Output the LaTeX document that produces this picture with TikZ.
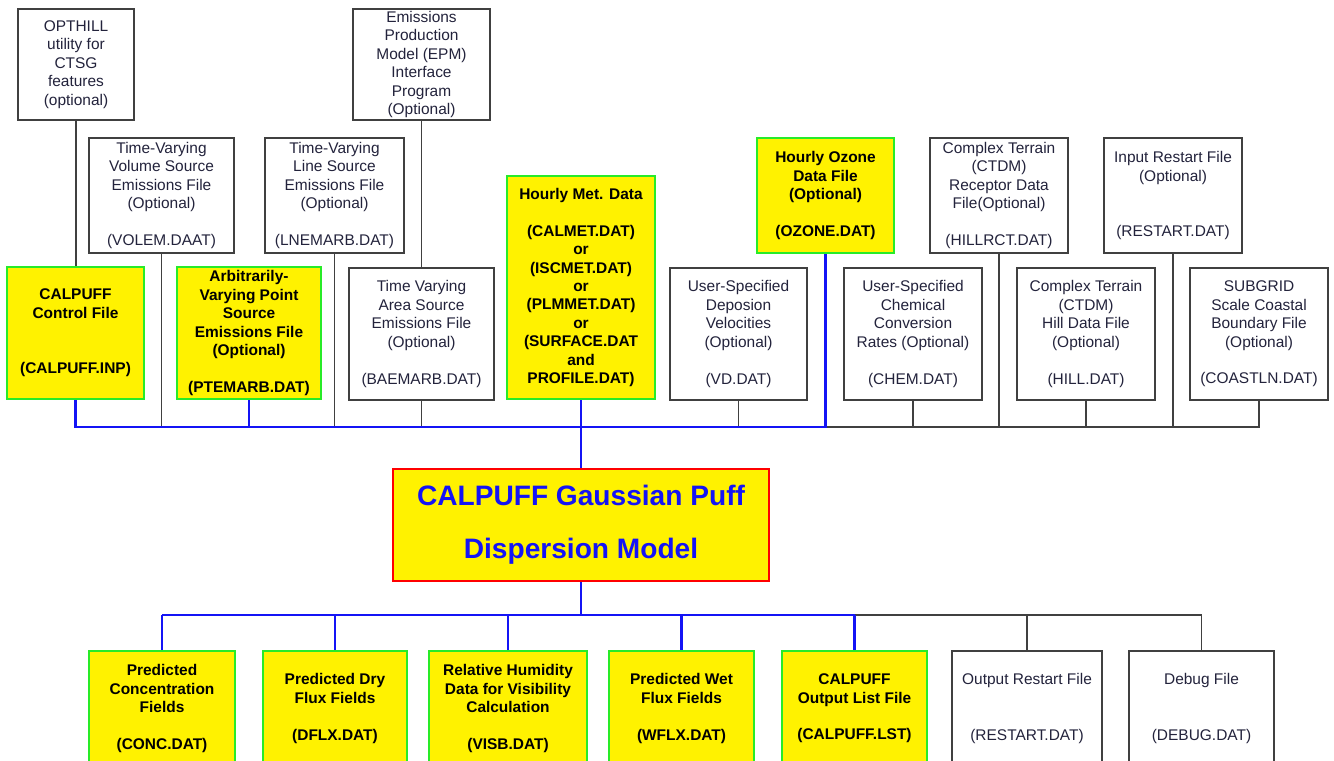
\documentclass[tikz,border=0pt]{standalone}
\usepackage{fontspec}
\setmainfont{Liberation Sans}
\usepackage{tikz}
\usetikzlibrary{calc}

\definecolor{boxgray}{RGB}{64,64,64}
\definecolor{txtgray}{RGB}{35,35,60}
\definecolor{limegreen}{RGB}{40,235,40}
\definecolor{busblue}{RGB}{20,20,245}

\begin{document}
\begin{tikzpicture}[x=0.02cm, y=-0.02cm,
    sz/.style 2 args={minimum width=#1*0.02cm, minimum height=#2*0.02cm},
    plainbox/.style={draw=boxgray, line width=0.9pt, fill=white, align=center, inner sep=0pt,
        text=txtgray, font=\fontsize{8.8}{10.5}\selectfont},
    databox/.style={draw=limegreen, line width=1.2pt, fill=yellow, align=center, inner sep=0pt,
        text=black, font=\fontsize{8.8}{10.5}\selectfont\bfseries},
    modelbox/.style={draw=red, line width=1.3pt, fill=yellow, align=center, inner sep=0pt,
        text=busblue, font=\fontsize{16}{30}\selectfont\bfseries},
    blueln/.style={busblue, line width=1.2pt},
    grayln/.style={boxgray, line width=0.8pt}]

        \useasboundingbox (0,0) rectangle (1334,760);

        % Top row of input files
        \node[plainbox, sz={116}{111}] (opthill) at (76,64.5) {OPTHILL\\utility for\\CTSG\\features\\(optional)};
        \node[plainbox, sz={137}{111}] (epm) at (421.5,64.5) {Emissions\\Production\\Model (EPM)\\Interface\\Program\\(Optional)};
        \node[plainbox, sz={145}{115}] (volem) at (161.5,195.5) {Time-Varying\\Volume Source\\Emissions File\\(Optional)\\ \\(VOLEM.DAAT)};
        \node[plainbox, sz={139}{115}] (lnemarb) at (334.5,195.5) {Time-Varying\\Line Source\\Emissions File\\(Optional)\\ \\(LNEMARB.DAT)};
        \node[databox, sz={148}{223}] (met) at (581,287.5) {Hourly Met. Data\\ \\(CALMET.DAT)\\or\\(ISCMET.DAT)\\or\\(PLMMET.DAT)\\or\\(SURFACE.DAT\\and\\PROFILE.DAT)};
        \node[databox, sz={137}{115}] (ozone) at (825.5,195.5) {Hourly Ozone\\Data File\\(Optional)\\ \\(OZONE.DAT)};
        \node[plainbox, sz={138}{115}] (hillrct) at (999,195.5) {Complex Terrain\\(CTDM)\\Receptor Data\\File(Optional)\\ \\(HILLRCT.DAT)};
        \node[plainbox, sz={138}{115}] (rstin) at (1173,195.5) {Input Restart File\\(Optional)\\ \\ \\(RESTART.DAT)};

        % Second row of input files
        \node[databox, sz={137}{132}] (ctrl) at (75.5,333) {CALPUFF\\Control File\\ \\ \\(CALPUFF.INP)};
        \node[databox, sz={144}{132}] (ptemarb) at (249,333) {Arbitrarily-\\Varying Point\\Source\\Emissions File\\(Optional)\\ \\(PTEMARB.DAT)};
        \node[plainbox, sz={145}{132}] (baemarb) at (421.5,334) {Time Varying\\Area Source\\Emissions File\\(Optional)\\ \\(BAEMARB.DAT)};
        \node[plainbox, sz={137}{132}] (vd) at (738.5,334) {User-Specified\\Deposion\\Velocities\\(Optional)\\ \\(VD.DAT)};
        \node[plainbox, sz={138}{132}] (chem) at (913,334) {User-Specified\\Chemical\\Conversion\\Rates (Optional)\\ \\(CHEM.DAT)};
        \node[plainbox, sz={138}{132}] (hill) at (1086,334) {Complex Terrain\\(CTDM)\\Hill Data File\\(Optional)\\ \\(HILL.DAT)};
        \node[plainbox, sz={138}{132}] (coast) at (1259,334) {SUBGRID\\Scale Coastal\\Boundary File\\(Optional)\\ \\(COASTLN.DAT)};

        % Model
        \node[modelbox, sz={376}{112}] (main) at (581,525) {CALPUFF Gaussian Puff\\Dispersion Model};

        % Output files
        \node[databox, sz={146}{115}] (conc) at (162,708.5) {Predicted\\Concentration\\Fields\\ \\(CONC.DAT)};
        \node[databox, sz={144}{115}] (dflx) at (335,708.5) {Predicted Dry\\Flux Fields\\ \\(DFLX.DAT)};
        \node[databox, sz={158}{115}] (visb) at (508,708.5) {Relative Humidity\\Data for Visibility\\Calculation\\ \\(VISB.DAT)};
        \node[databox, sz={145}{115}] (wflx) at (681.5,708.5) {Predicted Wet\\Flux Fields\\ \\(WFLX.DAT)};
        \node[databox, sz={145}{115}] (lst) at (854.5,708.5) {CALPUFF\\Output List File\\ \\(CALPUFF.LST)};
        \node[plainbox, sz={150}{115}] (rstout) at (1027,708.5) {Output Restart File\\ \\ \\(RESTART.DAT)};
        \node[plainbox, sz={145}{115}] (debug) at (1201.5,708.5) {Debug File\\ \\ \\(DEBUG.DAT)};

        % Bus lines
        \coordinate (ibus) at (0,427);
        \coordinate (obus) at (0,615);

        % Gray connectors
        \draw[grayln] (opthill.south) -- (opthill.south |- ctrl.north);
        \draw[grayln] (epm.south) -- (epm.south |- baemarb.north);
        \foreach \n in {volem,lnemarb,baemarb,vd,chem,hillrct,hill,rstin}
            \draw[grayln] (\n.south) -- (\n.south |- ibus);
        \draw[grayln] (ozone.south |- ibus) -- (coast.south |- ibus) -- (coast.south);
        \draw[grayln] (rstout.north) -- (rstout.north |- obus);
        \draw[grayln] (lst.north |- obus) -- (debug.north |- obus) -- (debug.north);

        % Blue connectors
        \draw[blueln] (ctrl.south) -- (ctrl.south |- ibus) -- (ozone.south |- ibus) -- (ozone.south);
        \draw[blueln] (ptemarb.south) -- (ptemarb.south |- ibus);
        \draw[blueln] (met.south) -- (main.north);
        \draw[blueln] (main.south) -- (main.south |- obus);
        \draw[blueln] (conc.north |- obus) -- (lst.north |- obus);
        \foreach \n in {conc,dflx,visb,wflx,lst}
            \draw[blueln] (\n.north |- obus) -- (\n.north);

\end{tikzpicture}
\end{document}
